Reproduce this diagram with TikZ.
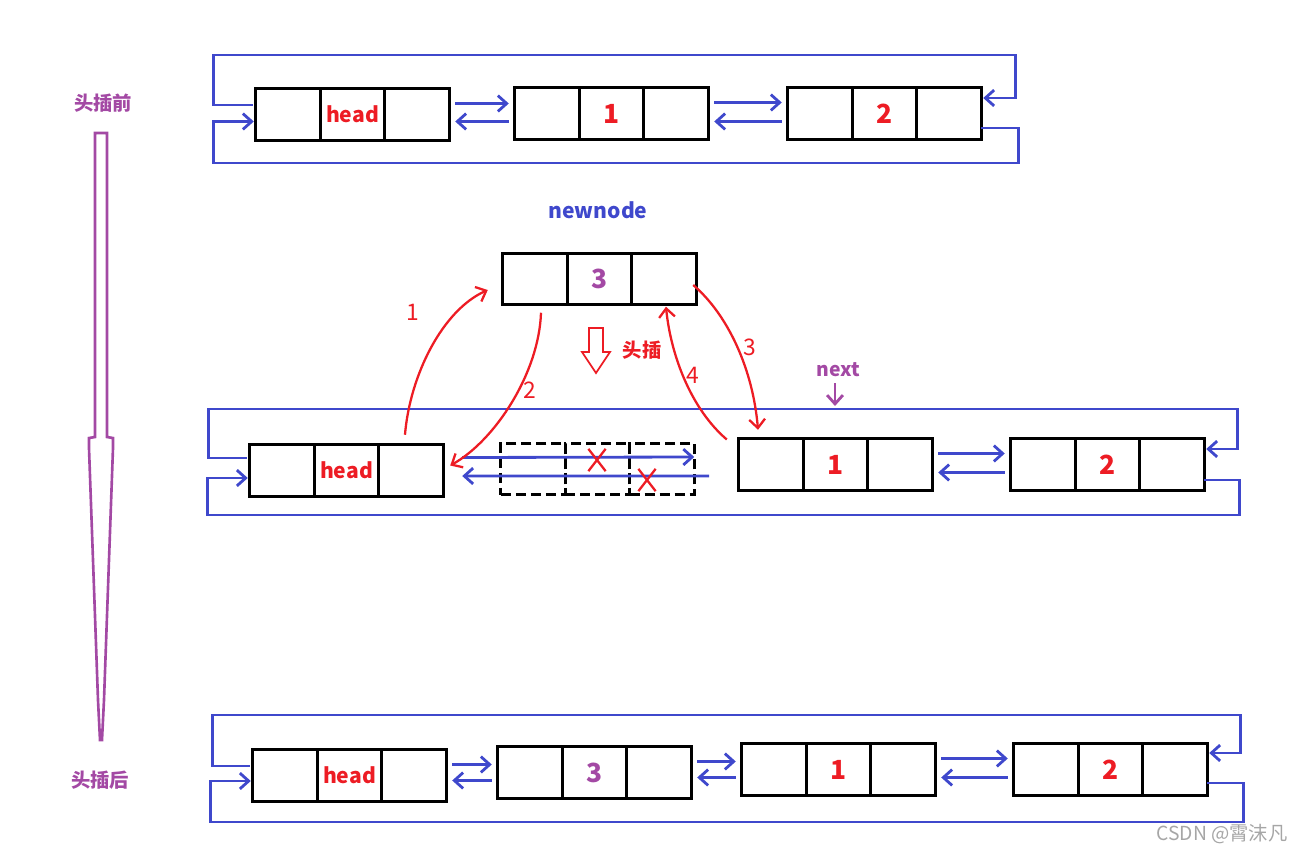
\documentclass[tikz,border=0pt]{standalone}
\usepackage{fontspec}
\setmainfont{Noto Sans CJK SC}
\usetikzlibrary{shapes,arrows.meta,positioning,calc}

\definecolor{linkblue}{RGB}{63,72,204}
\definecolor{markred}{RGB}{237,28,36}
\definecolor{tagpurple}{RGB}{163,73,164}

\begin{document}
\begin{tikzpicture}[x=0.02cm,y=-0.02cm,
  >={Straight Barb[length=5pt,width=9pt]},
  cell/.style={draw,line width=1.6pt,minimum width=1.29cm,minimum height=1.03cm,
    inner sep=0pt,outer sep=0pt,font=\bfseries\fontsize{12}{14}\selectfont},
  ghost/.style={cell,dash pattern=on 0.2cm off 0.1cm},
  link/.style={draw=linkblue,line width=1.6pt},
  redcurve/.style={draw=markred,line width=1.3pt,->},
  steplabel/.style={text=markred,font=\fontsize{13}{15}\selectfont},
  crossx/.style={cross out,draw=markred,line width=1.3pt,minimum width=0.3cm,minimum height=0.4cm,inner sep=0pt},
  title/.style={font=\bfseries\fontsize{11}{13}\selectfont}]
\useasboundingbox (0,0) rectangle (1305,855);

% list nodes: prev | data | next
\foreach \n/\x/\y/\t/\c/\s in {h1/288/114.5/head/markred/12, a1/547/113.5/1/markred/15, t1/820/113.5/2/markred/15,
    n2/535/279/3/tagpurple/15, h2/282/470.5/head/markred/12, a2/771/464.5/1/markred/15, t2/1043/464.5/2/markred/15,
    h3/285/775.5/head/markred/12, n3/530/772.5/3/tagpurple/15, a3/774/769.5/1/markred/15, t3/1046/769.5/2/markred/15} {
  \node[cell] (\n-p) at (\x,\y) {};
  \node[cell,right=0pt of \n-p,font=\bfseries\fontsize{\s}{\s}\selectfont] (\n-d) {\textcolor{\c}{\t}};
  \node[cell,right=0pt of \n-d] (\n-n) {};
}
% old link, now cut
\node[ghost] (d2-p) at (533,469) {};
\node[ghost,right=0pt of d2-p] (d2-d) {};
\node[ghost,right=0pt of d2-d] (d2-n) {};

% prev/next pairs
\foreach \a/\b in {h1/a1, a1/t1, a2/t2, h3/n3, n3/a3, a3/t3} {
  \coordinate (fwd) at ($(\a-n.east)+(6,-11)$);
  \coordinate (bwd) at ($(\b-p.west)+(-6,8)$);
  \draw[link,->] (fwd) -- ($(\b-p.west |- fwd)+(-6,0)$);
  \draw[link,->] (bwd) -- ($(\a-n.east |- bwd)+(6,0)$);
}
\draw[link,->] ($(h2-n.east)+(19,-13)$) -- ($(d2-n.east)+(0,-12)$);
\draw[link,->] ($(d2-n.east)+(15,7)$) -- ($(h2-n.east)+(19,5.5)$);
\node[crossx] (x1) at (597,460) {};
\node[crossx] (x2) at (647,480) {};

% circular links
\draw[link,->] ($(h1-p.west)+(-3,-9.5)$) -| ++(-39,-50) -| ($(t1-n.east)+(34,-15.5)$) -- ($(t1-n.east)+(2,-15.5)$);
\draw[link,->] ($(t1-n.east)+(0,14.5)$) -| ++(37,35) -| ($(h1-p.west)+(-42,7)$) -- ($(h1-p.west)+(-2,7)$);
\draw[link,->] ($(h2-p.west)+(-3,-12.5)$) -| ++(-38,-49) -| ($(t2-n.east)+(33,-15.5)$) -- ($(t2-n.east)+(2,-15.5)$);
\draw[link,->] ($(t2-n.east)+(0,15.5)$) -| ++(35,35) -| ($(h2-p.west)+(-42,7.5)$) -- ($(h2-p.west)+(-2,7.5)$);
\draw[link,->] ($(h3-p.west)+(-3,-9.5)$) -| ++(-37,-51) -| ($(t3-n.east)+(33,-16.5)$) -- ($(t3-n.east)+(2,-16.5)$);
\draw[link,->] ($(t3-n.east)+(0,13.5)$) -| ++(36,39) -| ($(h3-p.west)+(-42,5.5)$) -- ($(h3-p.west)+(-2,5.5)$);

% insertion steps
\draw[redcurve] ($(h2-n.north)+(-6,-10)$) .. controls +(5,-60) and +(-45,20) .. ($(n2-p.west)+(-15,11)$);
\draw[redcurve] ($(n2-p.south)+(6,8)$) .. controls +(-2,60) and +(45,-25) .. ($(h2-n.east)+(7,-5)$);
\draw[redcurve] ($(n2-n.east)+(-3,6)$) .. controls +(35,30) and +(-5,-60) .. ($(a2-p.north)+(-13,-9)$);
\draw[redcurve] ($(a2-p.west)+(-12,-25)$) .. controls +(-35,-30) and +(5,50) .. ($(n2-n.south)+(2,2)$);
\node[steplabel] (s1) at (413,312) {1};
\node[steplabel] (s2) at (530,390) {2};
\node[steplabel] (s3) at (750,347) {3};
\node[steplabel] (s4) at (693,375) {4};

\node[title,text=linkblue,font=\bfseries\fontsize{12}{14}\selectfont] (nn) at (598,210) {newnode};
\draw[markred,line width=1pt] (589,328) -- (603,328) -- (603,352) -- (610,352) -- (596,373) -- (582,352) -- (589,352) -- cycle;
\node[title,text=markred] (inslabel) at (642,350) {头插};
\node[title,text=tagpurple] (nx) at (838,370) {next};
\coordinate (nxend) at (835,406);
\draw[line width=1.6pt,tagpurple,->] (nx.south -| nxend) -- (nxend);

% before / after
\node[title,text=tagpurple] (before) at (103,103) {头插前};
\node[title,text=tagpurple] (after) at (100,780) {头插后};
\draw[tagpurple,line width=1.5pt] (95,133) -- (107,133) -- (107,437) -- (113,438) -- (113,448)
  -- (104,700) -- (102,740) -- (100,740) -- (98,700) -- (89,448) -- (89,438) -- (95,437) -- cycle;

\node[text=gray!70,font=\fontsize{11}{13}\selectfont] (mark) at (1222,834) {CSDN @霄沫凡};
\end{tikzpicture}
\end{document}
